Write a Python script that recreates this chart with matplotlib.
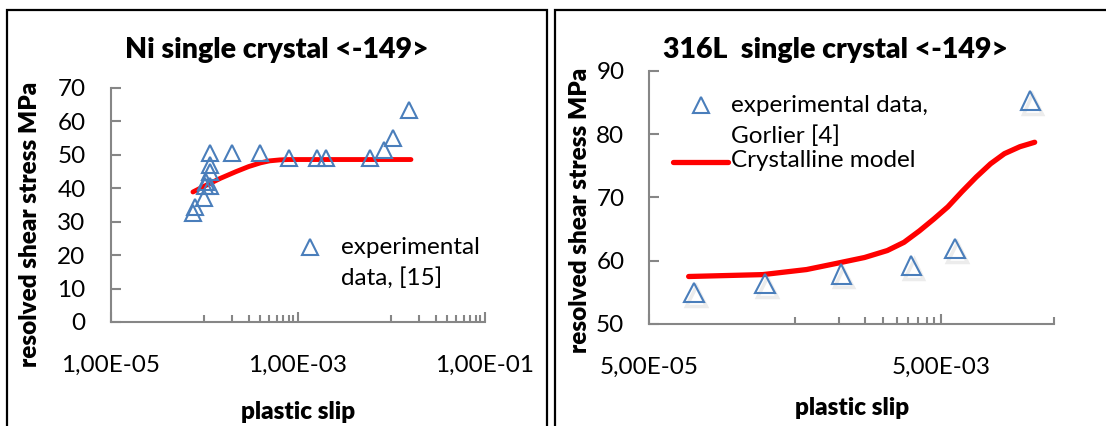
import matplotlib
matplotlib.use("Agg")
import matplotlib.pyplot as plt
import matplotlib.patheffects as pe
from matplotlib.lines import Line2D
from matplotlib.patches import Rectangle
from matplotlib.ticker import FixedLocator, NullFormatter

plt.rcParams['font.family'] = ['Lato', 'DejaVu Sans']

# ---- Ni single crystal data ----
ni_exp_slip = [7.6e-5, 7.9e-5, 1.0e-4, 1.03e-4, 1.05e-4, 1.15e-4, 1.16e-4, 1.16e-4, 1.17e-4,
               1.98e-4, 3.95e-4, 8.0e-4, 1.6e-3, 2.0e-3, 6.0e-3, 8.4e-3, 1.04e-2, 1.56e-2]
ni_exp_stress = [32.6, 34.4, 37.0, 40.6, 42.0, 50.5, 47.0, 45.0, 40.6,
                 50.5, 50.5, 49.0, 49.0, 49.0, 49.0, 51.5, 55.0, 63.5]
ni_model_slip = [7.6e-5, 1.0e-4, 1.5e-4, 2.2e-4, 3.0e-4, 4.0e-4, 5.0e-4, 6.5e-4, 8.0e-4, 1.63e-2]
ni_model_stress = [38.9, 40.6, 43.0, 45.0, 46.5, 47.6, 48.2, 48.5, 48.6, 48.6]

# ---- 316L single crystal data ----
ss_exp_slip = [1.01e-4, 3.1e-4, 1.04e-3, 3.15e-3, 6.26e-3, 2.06e-2]
ss_exp_stress = [55.0, 56.4, 57.9, 59.2, 61.9, 85.3]
ss_model_slip = [9.3e-5, 3.0e-4, 6.0e-4, 9.3e-4, 1.5e-3, 2.15e-3, 2.8e-3, 3.57e-3,
                 4.5e-3, 5.6e-3, 7.0e-3, 8.77e-3, 1.1e-2, 1.37e-2, 1.75e-2, 2.21e-2]
ss_model_stress = [57.5, 57.8, 58.6, 59.5, 60.5, 61.6, 62.9, 64.7,
                   66.6, 68.5, 70.9, 73.2, 75.3, 76.9, 78.0, 78.7]

ni_xticks = [1e-5, 1e-3, 1e-1]
ni_xlabels = ['1,00E-05', '1,00E-03', '1,00E-01']
ss_xticks = [5e-5, 5e-3]
ss_xlabels = ['5,00E-05', '5,00E-03']

blue = '#4a7ebb'
axis_grey = '#868686'
W, H = 1106, 426
TICK_FS = 17.5
LABEL_FS = 17.5
TITLE_FS = 20.5
LEG_FS = 17.5
BOLD = 'heavy'

fig = plt.figure(figsize=(W / 100, H / 100), dpi=100)

# panel frames (bottom edge runs off the picture)
for x0, x1 in [(7, 547), (555, 1115)]:
    fig.patches.append(Rectangle((x0 / W, -0.05), (x1 - x0) / W, 1.05 - 10 / H,
                                 transform=fig.transFigure, fill=False,
                                 edgecolor='black', linewidth=1.6))


def style_axes(ax, ymin, ymax, xticks, xlabels, minor):
    ax.set_xscale('log')
    ax.set_ylim(ymin, ymax)
    ax.set_yticks(range(ymin, ymax + 1, 10))
    for s in ['top', 'right']:
        ax.spines[s].set_visible(False)
    for s in ['left', 'bottom']:
        ax.spines[s].set_color(axis_grey)
        ax.spines[s].set_linewidth(1.5)
    ax.xaxis.set_major_locator(FixedLocator(xticks))
    ax.set_xticklabels(xlabels)
    ax.xaxis.set_minor_locator(FixedLocator(minor))
    ax.xaxis.set_minor_formatter(NullFormatter())
    ax.tick_params(axis='x', which='major', direction='in', length=7, width=1.5,
                   color=axis_grey, labelsize=TICK_FS, pad=24)
    ax.tick_params(axis='x', which='minor', direction='in', length=5, width=1.5,
                   color=axis_grey)
    ax.tick_params(axis='y', direction='in', length=7, width=1.5, color=axis_grey,
                   labelsize=TICK_FS, pad=18)


# ---------------- left panel ----------------
ax1 = fig.add_axes([110.6 / W, 1 - 322 / H, 374 / W, 234 / H])
ni_minor = [k * 1e-4 for k in range(1, 10)] + [k * 1e-2 for k in range(1, 10)]
style_axes(ax1, 0, 70, ni_xticks, ni_xlabels, ni_minor)
ax1.set_xlim(1e-5, 1e-1)
ax1.plot(ni_model_slip, ni_model_stress, color='red', linewidth=3.5,
         solid_capstyle='round', solid_joinstyle='round', zorder=2)
ax1.plot(ni_exp_slip, ni_exp_stress, linestyle='none', marker='^', markersize=12,
         markerfacecolor='none', markeredgecolor=blue, markeredgewidth=1.5, zorder=3)
ax1.text(0.445, 1.162, 'Ni single crystal <-149>', transform=ax1.transAxes,
         ha='center', va='center', fontsize=TITLE_FS, fontweight=BOLD)
ax1.set_ylabel('resolved shear stress MPa', fontsize=LABEL_FS, fontweight=BOLD, va='center')
ax1.yaxis.set_label_coords(-0.2155, 0.419)
ax1.set_xlabel('plastic slip', fontsize=LABEL_FS, fontweight=BOLD, va='center')
ax1.xaxis.set_label_coords(0.5, -0.385)

# legend (left)
ax1.add_line(Line2D([(309.8 - 110.6) / 374], [(322 - 247.3) / 234], transform=ax1.transAxes,
                    linestyle='none', marker='^', markersize=12, markerfacecolor='none',
                    markeredgecolor=blue, markeredgewidth=1.5, clip_on=False))
ax1.text((340.7 - 110.6) / 374, (322 - 247.3) / 234, 'experimental', transform=ax1.transAxes,
         ha='left', va='center', fontsize=LEG_FS)
ax1.text((340.7 - 110.6) / 374, (322 - 278.3) / 234, 'data, [15]', transform=ax1.transAxes,
         ha='left', va='center', fontsize=LEG_FS)

# ---------------- right panel ----------------
ax2 = fig.add_axes([649.4 / W, 1 - 324 / H, 404.6 / W, 253.3 / H])
ss_minor = [k * 5e-4 for k in range(1, 10)] + [3e-2]
style_axes(ax2, 50, 90, ss_xticks, ss_xlabels, ss_minor)
ax2.set_xlim(5e-5, 3e-2)
ax2.plot(ss_model_slip, ss_model_stress, color='red', linewidth=3.8,
         solid_capstyle='round', solid_joinstyle='round', zorder=2)
shadow = [pe.SimpleLineShadow(offset=(1.5, -2.5), shadow_color='grey', alpha=0.15,
                              linewidth=2.5), pe.Normal()]
ax2.plot(ss_exp_slip, ss_exp_stress, linestyle='none', marker='^', markersize=14,
         markerfacecolor='none', markeredgecolor=blue, markeredgewidth=1.5, zorder=3,
         path_effects=shadow)
ax2.text(0.461, 1.082, '316L  single crystal <-149>', transform=ax2.transAxes,
         ha='center', va='center', fontsize=TITLE_FS, fontweight=BOLD)
ax2.set_ylabel('resolved shear stress MPa', fontsize=LABEL_FS, fontweight=BOLD, va='center')
ax2.yaxis.set_label_coords(-0.1715, 0.45)
ax2.set_xlabel('plastic slip', fontsize=LABEL_FS, fontweight=BOLD, va='center')
ax2.xaxis.set_label_coords(0.5, -0.332)


# legend (right)
def ax2_xy(px, py):
    return (px - 649.4) / 404.6, (324 - py) / 253.3


mx, my = ax2_xy(700.9, 105)
ax2.add_line(Line2D([mx], [my], transform=ax2.transAxes, linestyle='none', marker='^',
                    markersize=12, markerfacecolor='none', markeredgecolor=blue,
                    markeredgewidth=1.5, clip_on=False))
lx0, ly = ax2_xy(672.5, 161.7)
lx1, _ = ax2_xy(727.5, 161.7)
ax2.add_line(Line2D([lx0, lx1], [ly, ly], transform=ax2.transAxes, color='red',
                    linewidth=3.8, solid_capstyle='round', clip_on=False))
tx, ty1 = ax2_xy(731, 105)
_, ty2 = ax2_xy(731, 136)
_, ty3 = ax2_xy(731, 160.5)
ax2.text(tx, ty1, 'experimental data,', transform=ax2.transAxes, ha='left', va='center', fontsize=LEG_FS)
ax2.text(tx, ty2, 'Gorlier [4]', transform=ax2.transAxes, ha='left', va='center', fontsize=LEG_FS)
ax2.text(tx, ty3, 'Crystalline model', transform=ax2.transAxes, ha='left', va='center', fontsize=LEG_FS)

fig.savefig('out.png', dpi=100, facecolor='white')
